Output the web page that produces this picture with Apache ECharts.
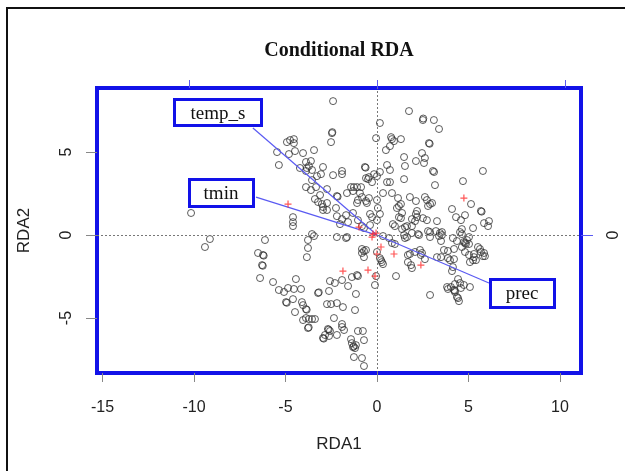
<!DOCTYPE html>
<html><head><meta charset="utf-8">
<script src="https://cdn.jsdelivr.net/npm/echarts@6/dist/echarts.min.js"></script>
<style>html,body{margin:0;padding:0;background:#fff}#c{width:625px;height:471px}</style>
</head><body><div id="c"></div>
<script>
// site scores (RDA1, RDA2)
const sitePoints = [[-2.40,8.07],[1.75,7.47],[2.51,6.93],[2.53,7.02],[3.11,6.93],[3.39,6.39],[0.16,6.75],[-2.46,6.14],[-2.44,6.20],[-2.51,5.60],[-0.05,5.84],[0.77,5.90],[0.82,5.78],[0.93,5.66],[1.31,5.78],[0.71,5.36],[0.49,5.12],[2.84,5.54],[2.88,5.50],[-4.92,5.60],[-4.75,5.72],[-4.54,5.78],[-4.54,5.54],[-5.46,5.00],[-4.81,4.88],[-4.48,5.06],[-4.04,4.94],[-3.44,5.12],[-5.36,4.22],[1.48,4.70],[2.13,4.46],[2.46,4.94],[2.62,4.64],[2.57,4.34],[1.53,4.16],[3.06,3.86],[3.12,3.80],[5.79,3.86],[4.70,3.25],[3.17,3.01],[1.48,3.37],[-3.88,4.40],[-3.61,4.46],[-3.72,4.16],[-3.88,3.86],[-3.55,3.92],[-3.28,3.55],[-3.06,3.67],[-2.95,4.10],[-2.40,3.61],[-1.91,3.86],[-1.91,3.67],[-0.66,4.10],[-0.62,4.06],[0.16,3.80],[-0.16,3.67],[0.00,3.55],[-0.44,3.49],[-0.60,3.43],[-0.49,3.37],[-0.27,3.19],[0.55,4.22],[0.71,3.92],[0.55,3.19],[0.71,3.19],[-3.55,3.31],[-3.88,2.89],[-3.61,2.71],[-3.33,2.89],[-2.73,2.77],[-3.11,2.41],[-3.01,1.87],[-2.95,1.69],[-3.39,2.17],[-3.22,1.99],[-2.73,1.93],[-2.73,1.51],[-2.95,1.51],[-2.19,2.35],[-2.15,2.31],[-1.64,2.53],[-1.42,2.89],[-1.26,2.89],[-1.09,2.89],[-0.87,2.89],[-1.31,2.65],[-0.93,2.53],[-0.82,2.29],[-0.60,2.05],[-1.09,1.93],[-1.04,2.11],[-0.55,1.93],[-0.44,2.23],[0.00,2.11],[0.05,1.63],[0.33,2.53],[0.82,2.53],[1.15,2.23],[1.80,2.29],[2.13,2.05],[2.62,2.29],[2.73,2.11],[2.90,1.87],[2.79,1.75],[1.09,1.63],[1.20,1.75],[1.31,1.87],[1.37,1.33],[2.19,1.45],[2.13,1.27],[2.19,1.08],[1.91,0.96],[2.08,0.84],[2.51,1.02],[2.73,0.90],[3.28,0.84],[4.10,1.57],[4.32,1.08],[4.81,1.20],[4.59,0.90],[5.14,1.87],[5.68,1.45],[5.72,1.41],[5.85,0.72],[6.07,0.54],[6.12,0.84],[5.25,0.42],[-2.24,1.63],[-2.19,1.14],[-2.02,0.66],[-1.91,0.96],[-1.69,1.20],[-1.58,0.78],[-1.31,1.33],[-1.04,0.90],[-0.82,0.54],[-0.71,0.42],[-0.38,1.27],[-0.27,1.08],[-0.38,0.60],[0.16,1.27],[0.00,0.90],[0.87,0.66],[0.98,0.54],[1.37,0.36],[1.53,0.48],[1.64,0.54],[1.20,1.08],[1.31,1.02],[1.91,0.54],[2.24,0.06],[2.90,0.18],[3.22,0.24],[3.55,0.18],[3.55,0.00],[4.54,0.18],[4.64,0.06],[5.03,-0.12],[4.15,-0.18],[1.48,0.00],[1.64,-0.12],[-3.55,0.06],[-3.44,-0.06],[-2.19,-0.12],[-1.64,-0.12],[-4.59,1.08],[-4.59,0.78],[-4.59,0.54],[-10.16,1.33],[-9.13,-0.24],[-9.40,-0.72],[-6.12,-0.30],[-6.50,-1.08],[-6.23,-1.20],[-6.19,-1.24],[-6.28,-1.81],[-6.24,-1.85],[-6.39,-2.59],[-5.68,-2.83],[-5.36,-3.31],[-5.08,-3.43],[-4.97,-4.04],[-4.93,-4.08],[-4.59,-3.86],[-4.48,-4.64],[-4.43,-2.65],[-4.54,-3.25],[-4.15,-3.25],[-4.10,-4.04],[-4.04,-4.22],[-3.88,-4.46],[-3.84,-4.50],[-4.04,-5.12],[-3.88,-5.00],[-3.72,-5.06],[-3.55,-5.06],[-3.39,-5.06],[-3.77,-5.60],[-3.73,-5.56],[-3.77,-0.30],[-3.77,-0.78],[-3.83,-1.33],[-3.22,-3.49],[-3.18,-3.45],[-2.57,-2.77],[-2.30,-2.89],[-2.62,-3.37],[-2.73,-4.16],[-2.51,-4.16],[-2.19,-4.10],[-2.35,-5.00],[-2.68,-5.66],[-2.64,-5.70],[-2.84,-6.02],[-2.95,-6.20],[-2.91,-6.24],[-2.62,-6.08],[-2.19,-6.02],[-1.69,-0.18],[-1.58,-3.07],[-1.15,-3.55],[-1.37,-2.53],[-1.04,-2.47],[-0.82,-0.84],[-0.71,-0.96],[-0.82,-1.08],[-0.71,-1.33],[-0.60,-0.90],[-1.86,-4.34],[-1.20,-4.52],[-1.91,-5.36],[-1.80,-5.72],[-1.91,-5.54],[-2.57,-5.78],[-1.42,-6.27],[-1.37,-6.51],[-1.31,-6.75],[-1.27,-6.71],[-1.20,-6.81],[-1.15,-6.63],[-1.04,-5.78],[-0.77,-5.78],[-0.71,-6.33],[-1.26,-7.35],[-0.82,-7.41],[-0.71,-7.89],[-0.05,-2.47],[-0.11,-3.01],[0.22,-1.51],[0.33,-1.75],[0.33,-0.06],[0.66,-0.18],[0.98,-0.54],[0.82,-0.48],[1.53,-0.18],[1.91,0.12],[2.30,0.00],[2.79,0.24],[3.44,0.12],[1.69,-1.20],[1.80,-1.14],[2.08,-1.02],[1.69,-1.63],[1.91,-1.99],[2.40,-1.20],[2.62,-1.45],[1.04,-2.47],[3.28,-1.33],[3.50,-1.33],[3.88,-0.96],[4.21,-1.45],[4.15,-1.93],[4.10,-2.17],[4.37,-0.36],[4.81,-0.48],[5.03,-0.54],[4.92,-0.30],[5.03,-1.20],[5.30,-1.14],[5.41,-1.51],[5.30,-1.33],[5.63,-0.84],[5.85,-1.08],[5.90,-1.27],[4.43,-2.65],[4.54,-2.89],[4.26,-2.95],[4.04,-3.13],[3.88,-3.25],[4.21,-3.31],[4.25,-3.35],[4.59,-3.19],[4.75,-3.01],[5.08,-3.13],[4.43,-3.80],[4.48,-3.98],[2.90,-3.61],[3.01,1.93],[2.90,-0.12],[3.39,-0.06],[3.50,-0.36],[4.64,0.36],[4.75,-0.42],[4.86,-0.54],[2.35,-0.90],[2.46,-1.08],[3.66,-0.90],[4.21,-0.84],[4.64,-0.72],[5.52,-0.72],[5.68,-1.02],[5.79,-1.27],[5.08,-1.63],[5.25,-1.51],[4.81,-1.02],[3.88,-1.39],[3.99,-1.51],[3.83,-3.13],[4.26,-3.43],[4.37,-3.73],[-4.86,-3.19],[-1.09,-2.41],[-1.91,-2.71],[1.86,-1.81],[0.00,-1.02],[0.16,-1.39],[0.27,-1.63],[-4.21,4.04],[-3.83,4.04]];
// species scores (red +)
const speciesPoints = [[-4.86,1.87],[4.75,2.23],[-0.98,0.48],[-0.22,0.06],[-0.05,0.12],[-0.27,-0.12],[0.22,-0.72],[0.00,-1.14],[0.93,-1.14],[2.40,-1.81],[-0.49,-2.11],[-1.86,-2.17],[-0.11,-2.47]];
// biplot vectors (environment variables)
const vectorNames = ['temp_s','tmin','prec'];
const vectorX = [-6.78,-6.61,6.12];
const vectorY = [6.45,2.29,-2.89];
// label anchors (box centres) for the vector names
const labelX = [-8.69,-8.50,7.95];
const labelY = [7.38,2.53,-3.52];
// tick labels
const xTicks = [-15,-10,-5,0,5,10];
const yTicks = [-5,0,5];
const topTicks = [-10,0,10];
const rightTicks = [0];

const BLUE = '#1212e8';
const boxSizes = [[90,29],[67,30],[67,31]];
const chart = echarts.init(document.getElementById('c'), null, {renderer:'canvas'});

const vectorSeries = vectorNames.map((n,i)=>({
  type:'line', name:n, data:[[0,0],[vectorX[i],vectorY[i]]], showSymbol:false, symbol:'none',
  lineStyle:{color:'#5a5af2', width:1.2}, z:3, silent:true
}));

const sans = 'Liberation Sans, Arial, Helvetica, sans-serif';
const serif = 'Liberation Serif, Times New Roman, serif';
chart.setOption({
  animation:false,
  title:{text:'Conditional RDA', left:334, top:36, textAlign:'center',
    textStyle:{fontFamily:serif, fontWeight:'bold', fontSize:20, color:'#111'}},
  grid:{left:97, top:88, width:484, height:285, show:true, borderColor:BLUE, borderWidth:4, backgroundColor:'transparent', containLabel:false},
  xAxis:[
    {type:'value', position:'bottom', min:-15.3, max:11.15, axisLine:{show:false, onZero:false}, splitLine:{show:false},
     axisTick:{show:true, customValues:xTicks, length:9, lineStyle:{color:'#888'}},
     axisLabel:{customValues:xTicks, margin:27, fontSize:16, color:'#222', fontFamily:sans},
     name:'RDA1', nameLocation:'middle', nameGap:63, nameTextStyle:{fontSize:17, color:'#222', fontFamily:sans}},
    {type:'value', position:'top', min:-14.89, max:10.85, axisLine:{show:false, onZero:false}, splitLine:{show:false},
     axisTick:{show:true, customValues:topTicks, length:8, lineStyle:{color:'#5a5af2'}},
     axisLabel:{show:false, customValues:topTicks}}
  ],
  yAxis:[
    {type:'value', position:'left', min:-8.31, max:8.86, axisLine:{show:false, onZero:false}, splitLine:{show:false},
     axisTick:{show:true, customValues:yTicks, length:11, lineStyle:{color:'#888'}},
     axisLabel:{customValues:yTicks, rotate:90, margin:22, fontSize:16, color:'#222', fontFamily:sans},
     name:'RDA2', nameLocation:'middle', nameGap:64, nameRotate:90, nameTextStyle:{fontSize:17, color:'#222', fontFamily:sans}},
    {type:'value', position:'right', min:-8.31, max:8.86, axisLine:{show:false, onZero:false}, splitLine:{show:false},
     axisTick:{show:true, customValues:rightTicks, length:12, lineStyle:{color:'#5a5af2'}},
     axisLabel:{customValues:rightTicks, rotate:90, margin:25, fontSize:16, color:'#222', fontFamily:sans}}
  ],
  series:[
    {type:'scatter', name:'sites', data:sitePoints, symbol:'circle', symbolSize:7, z:2,
     itemStyle:{color:'rgba(0,0,0,0)', borderColor:'#333', borderWidth:1},
     markLine:{silent:true, symbol:['none','none'], label:{show:false},
       lineStyle:{type:[2,2], color:'#777', width:1},
       data:[{xAxis:0},{yAxis:0}]}},
    {type:'scatter', name:'species', data:speciesPoints, symbol:'path://M0,5L10,5M5,0L5,10', symbolSize:7, z:4,
     itemStyle:{color:'none', borderColor:'#ff2a2a', borderWidth:1.2}},
    ...vectorSeries
  ]
});

// outer frame + label boxes placed through the axes' own scales
const graphics = [{id:'frame', type:'rect', shape:{x:7,y:8,width:700,height:600}, style:{fill:'none', stroke:'#111', lineWidth:2}, z:100, silent:true}];
vectorNames.forEach((n,i)=>{
  const p = chart.convertToPixel({xAxisIndex:0, yAxisIndex:0}, [labelX[i], labelY[i]]);
  const w = boxSizes[i][0], h = boxSizes[i][1];
  const x0 = Math.round(p[0] - w/2) + 1.5, y0 = Math.round(p[1] - h/2) + 1.5;
  graphics.push({id:'box'+i, type:'group', z:50, silent:true, children:[
    {type:'rect', shape:{x:x0, y:y0, width:w-3, height:h-3}, style:{fill:'#fff', stroke:BLUE, lineWidth:3}, z:50},
    {type:'text', x:Math.round(p[0]), y:Math.round(p[1])+1, style:{text:n, fill:'#111', font:'19px '+serif, align:'center', verticalAlign:'middle'}, z:51}
  ]});
});
chart.setOption({graphic:graphics});
</script></body></html>
